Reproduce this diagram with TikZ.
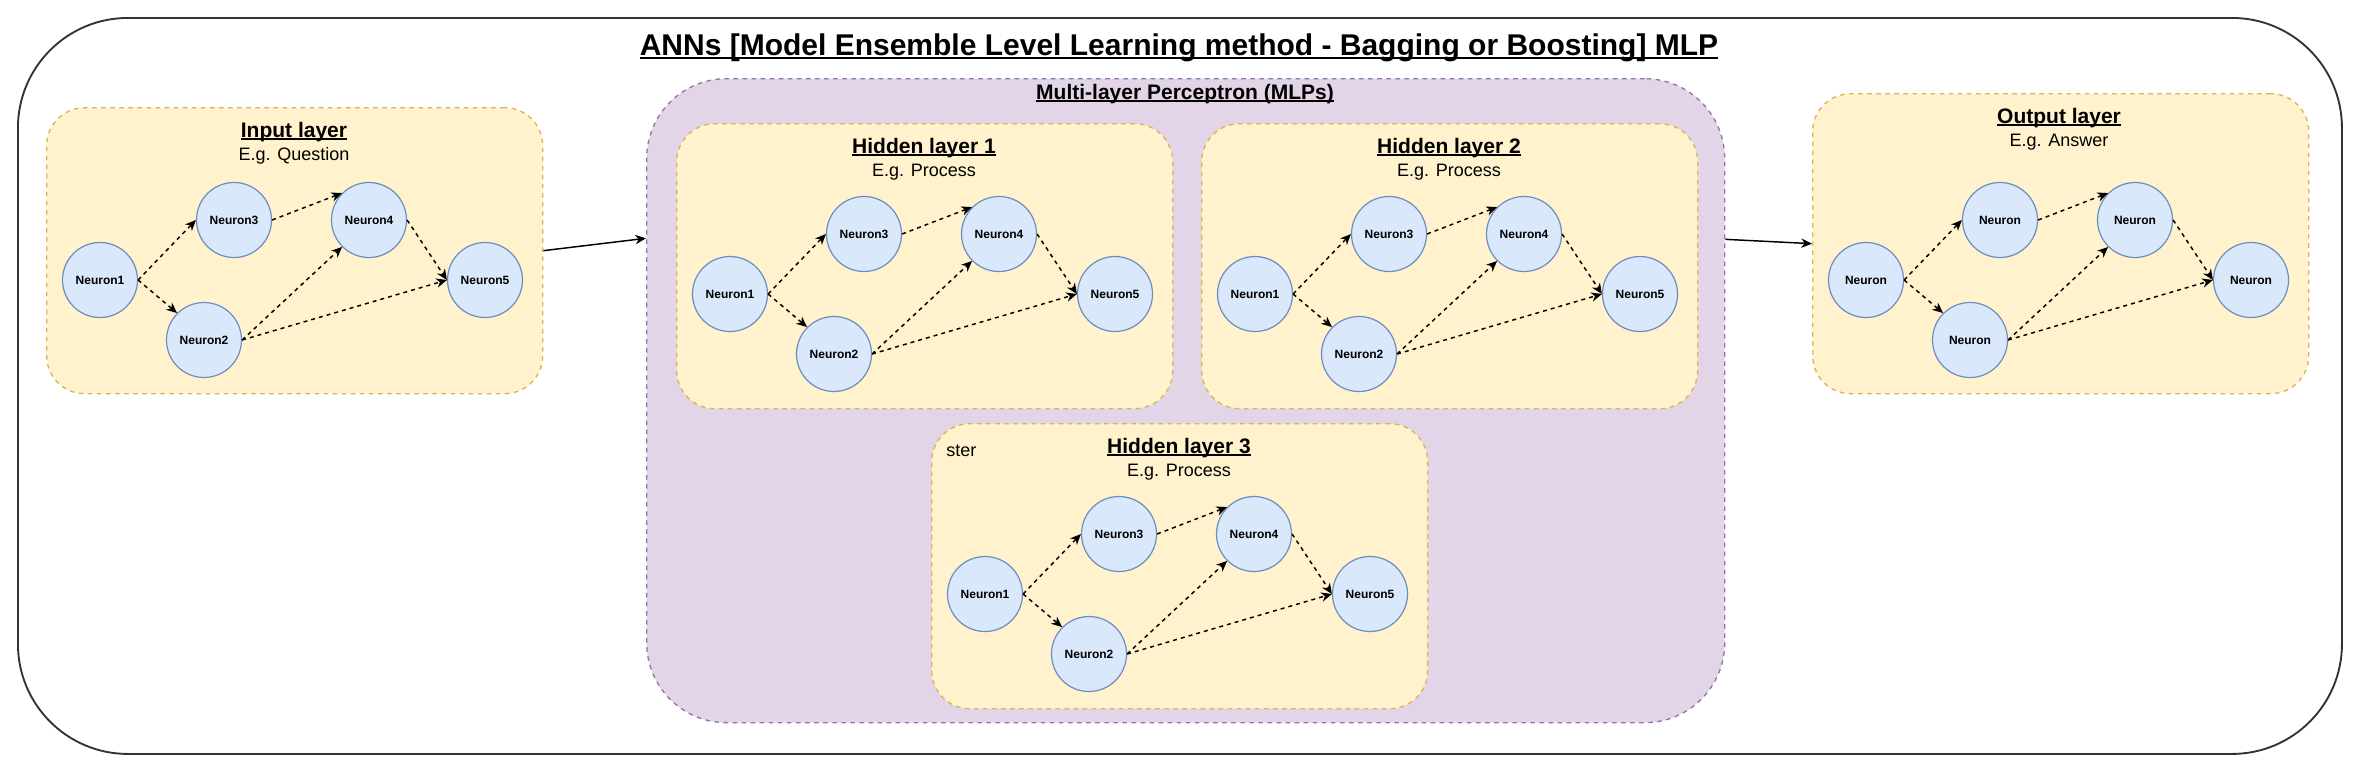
\documentclass[tikz,border=0pt]{standalone}
\usepackage{fontspec}
\setmainfont{Liberation Sans}
\usetikzlibrary{arrows.meta,calc}
\definecolor{layerfill}{HTML}{FFF2CC}
\definecolor{layerdraw}{HTML}{D6B656}
\definecolor{mlpfill}{HTML}{E1D5E7}
\definecolor{mlpdraw}{HTML}{9673A6}
\definecolor{nfill}{HTML}{DAE8FC}
\definecolor{ndraw}{HTML}{6C8EBF}
\definecolor{outerdraw}{HTML}{333333}
\newcommand\myul[1]{\setbox0\hbox{#1}\rlap{\rule[-0.13em]{\wd0}{0.07em}}\box0}
\newcommand\drawnet[7]{%
  \node[neuron] (#1n1) at (54,#2) {#3};
  \node[neuron] (#1n2) at (158,#2+60) {#4};
  \node[neuron] (#1n3) at (188,#2-60) {#5};
  \node[neuron] (#1n4) at (323,#2-60) {#6};
  \node[neuron] (#1n5) at (439,#2) {#7};
  \draw[link] (#1n1.east) -- (#1n3.west);
  \draw[link] (#1n1.east) -- (#1n2.north west);
  \draw[link] (#1n3.east) -- (#1n4.north west);
  \draw[link] (#1n2.east) -- (#1n4.south west);
  \draw[link] (#1n2.east) -- (#1n5.west);
  \draw[link] (#1n4.east) -- (#1n5.west);
}
\begin{document}
\begin{tikzpicture}[x=0.75pt,y=-0.75pt,
  outerbox/.style={draw=outerdraw,line width=1.4pt,rounded corners=82.5pt,inner sep=0pt,anchor=north west,minimum width=1743pt,minimum height=552pt},
  mlpbox/.style={draw=mlpdraw,fill=mlpfill,line width=1pt,dash pattern=on 3.4pt off 3.4pt,rounded corners=60pt,inner sep=0pt,anchor=north west,minimum width=808.5pt,minimum height=483pt},
  layerbox/.style={draw=layerdraw,fill=layerfill,line width=1pt,dash pattern=on 3.4pt off 3.4pt,rounded corners=28.5pt,inner sep=0pt,anchor=north west,minimum width=372pt,minimum height=213.75pt},
  neuron/.style={circle,draw=ndraw,fill=nfill,line width=0.9pt,minimum size=56.25pt,inner sep=0pt,font=\fontsize{9pt}{11pt}\selectfont\bfseries},
  link/.style={draw=black,line width=1.1pt,dash pattern=on 3pt off 3pt,-{Stealth[length=8pt,width=7pt,inset=2.5pt]}},
  flow/.style={draw=black,line width=1.1pt,-{Stealth[length=8pt,width=7pt,inset=2.5pt]}},
  maintitle/.style={font=\fontsize{22.5pt}{27pt}\selectfont\bfseries,inner sep=0pt,anchor=base},
  ltitle/.style={font=\fontsize{15.75pt}{19pt}\selectfont\bfseries,inner sep=0pt,anchor=base},
  lsub/.style={font=\fontsize{13.5pt}{16pt}\selectfont,inner sep=0pt,anchor=base},
]
\useasboundingbox (0,0) rectangle (2358,768);
\node[outerbox] (outer) at (17,17) {};
\node[maintitle] (title) at (1179,55) {\myul{ANNs [Model Ensemble Level Learning method - Bagging or Boosting] MLP}};

\node[mlpbox] (mlp) at (646,78) {};
\node[ltitle] (mlptitle) at (1185,99) {\myul{Multi-layer Perceptron (MLPs)}};

% Input layer
\begin{scope}[shift={(46,107)}]
  \node[layerbox,minimum height=214.5pt] (inp) at (0,0) {};
  \node[ltitle] (inptitle) at (248,30) {\myul{Input layer}};
  \node[lsub] (inpsub) at (248,53) {E.g. Question};
  \drawnet{i}{173}{Neuron1}{Neuron2}{Neuron3}{Neuron4}{Neuron5}
\end{scope}

% Hidden layer 1
\begin{scope}[shift={(676,123)}]
  \node[layerbox] (hA) at (0,0) {};
  \node[ltitle] (hAtitle) at (248,30) {\myul{Hidden layer 1}};
  \node[lsub] (hAsub) at (248,53) {E.g. Process};
  \drawnet{a}{171}{Neuron1}{Neuron2}{Neuron3}{Neuron4}{Neuron5}
\end{scope}

% Hidden layer 2
\begin{scope}[shift={(1201,123)}]
  \node[layerbox] (hB) at (0,0) {};
  \node[ltitle] (hBtitle) at (248,30) {\myul{Hidden layer 2}};
  \node[lsub] (hBsub) at (248,53) {E.g. Process};
  \drawnet{b}{171}{Neuron1}{Neuron2}{Neuron3}{Neuron4}{Neuron5}
\end{scope}

% Hidden layer 3
\begin{scope}[shift={(931,423)}]
  \node[layerbox] (hC) at (0,0) {};
  \node[lsub,anchor=base west] (ster) at (15,33) {ster};
  \node[ltitle] (hCtitle) at (248,30) {\myul{Hidden layer 3}};
  \node[lsub] (hCsub) at (248,53) {E.g. Process};
  \drawnet{c}{171}{Neuron1}{Neuron2}{Neuron3}{Neuron4}{Neuron5}
\end{scope}

% Output layer
\begin{scope}[shift={(1812,93)}]
  \node[layerbox,minimum height=225pt] (out) at (0,0) {};
  \node[ltitle] (outtitle) at (247,30) {\myul{Output layer}};
  \node[lsub] (outsub) at (247,53) {E.g. Answer};
  \drawnet{o}{187}{Neuron}{Neuron}{Neuron}{Neuron}{Neuron}
\end{scope}

\coordinate (mlpin) at ($(mlp.north west)!0.2484!(mlp.south west)$);
\coordinate (mlpout) at ($(mlp.north east)!0.25!(mlp.south east)$);
\draw[flow] (inp.east) -- (mlpin);
\draw[flow] (mlpout) -- (out.west);
\end{tikzpicture}
\end{document}
